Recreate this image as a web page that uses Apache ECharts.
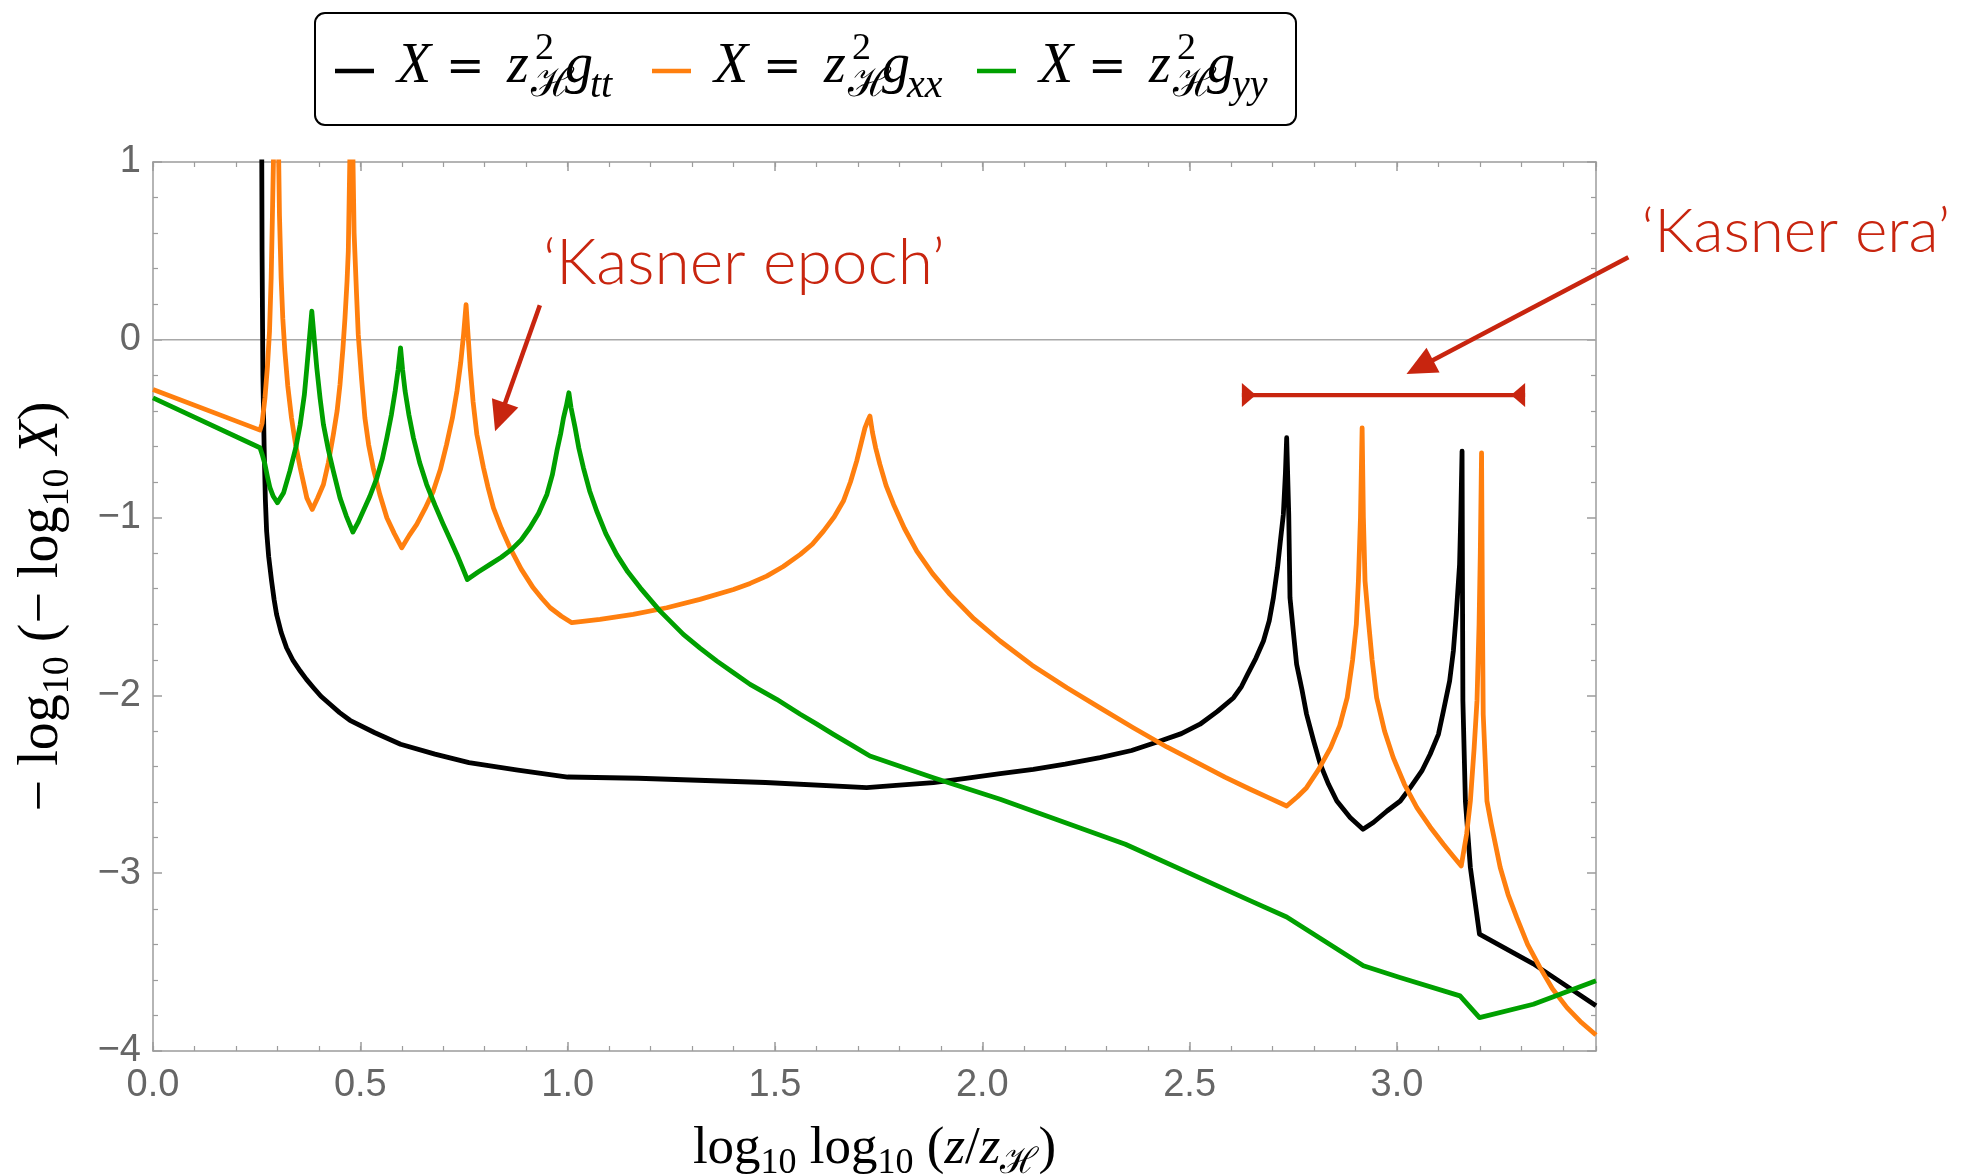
<!DOCTYPE html>
<html>
<head>
<meta charset="utf-8">
<script src="https://cdn.jsdelivr.net/npm/echarts@6/dist/echarts.min.js"></script>
<style>
  html, body { margin: 0; padding: 0; background: #ffffff; }
  #chart { width: 1981px; height: 1176px; }
</style>
</head>
<body>
<div id="chart"></div>
<script>
// -log10(-log10 X) against log10 log10(z/z_H) for the three metric components.
// Each entry is [log10 log10(z/z_H), -log10(-log10 X)].
const gttPoints = [
  [0.261, 2.0], [0.263, 0.5], [0.265, -0.2], [0.268, -0.6], [0.271, -0.9],
  [0.274, -1.076], [0.279, -1.22], [0.286, -1.357], [0.292, -1.46], [0.298, -1.544],
  [0.309, -1.645], [0.322, -1.732], [0.338, -1.805], [0.355, -1.863], [0.37, -1.91],
  [0.387, -1.957], [0.405, -2.005], [0.427, -2.05], [0.45, -2.097], [0.475, -2.14],
  [0.535, -2.21], [0.597, -2.275], [0.68, -2.33], [0.762, -2.378], [0.88, -2.42],
  [1.0, -2.459], [1.17, -2.466], [1.477, -2.49], [1.721, -2.519], [1.8, -2.505],
  [1.882, -2.49], [1.96, -2.466], [2.043, -2.44], [2.123, -2.416], [2.2, -2.387],
  [2.284, -2.35], [2.36, -2.31], [2.429, -2.256], [2.48, -2.215], [2.525, -2.162],
  [2.567, -2.09], [2.606, -2.013], [2.625, -1.95], [2.64, -1.88], [2.66, -1.79],
  [2.678, -1.694], [2.692, -1.58], [2.702, -1.451], [2.712, -1.28], [2.718, -1.15],
  [2.726, -0.982], [2.731, -0.75], [2.734, -0.551], [2.739, -0.982], [2.742, -1.451],
  [2.75, -1.64], [2.758, -1.825], [2.771, -1.97], [2.782, -2.106], [2.799, -2.256],
  [2.815, -2.387], [2.835, -2.5], [2.855, -2.594], [2.887, -2.687], [2.918, -2.753],
  [2.943, -2.715], [2.976, -2.65], [3.008, -2.594], [3.032, -2.519], [3.06, -2.425],
  [3.08, -2.331], [3.1, -2.219], [3.112, -2.088], [3.127, -1.919], [3.136, -1.75],
  [3.143, -1.544], [3.151, -1.263], [3.154, -0.982], [3.157, -0.626], [3.158, -1.4],
  [3.159, -2.031], [3.165, -2.594], [3.177, -2.968], [3.199, -3.343], [3.329, -3.51],
  [3.48, -3.746]
];

const gxxPoints = [
  [0.0, -0.28], [0.258, -0.508], [0.263, -0.47], [0.27, -0.327], [0.276, -0.15],
  [0.281, 0.048], [0.285, 0.35], [0.288, 0.7], [0.292, 1.2], [0.297, 2.5],
  [0.302, 1.2], [0.305, 0.7], [0.309, 0.35], [0.313, 0.12], [0.318, -0.064],
  [0.325, -0.26], [0.334, -0.439], [0.344, -0.59], [0.355, -0.72], [0.371, -0.889],
  [0.384, -0.954], [0.397, -0.89], [0.411, -0.814], [0.423, -0.69], [0.435, -0.532],
  [0.444, -0.4], [0.451, -0.251], [0.458, -0.05], [0.463, 0.123], [0.468, 0.33],
  [0.471, 0.498], [0.476, 1.2], [0.478, 2.5], [0.481, 1.2], [0.485, 0.6],
  [0.491, 0.25], [0.495, 0.03], [0.503, -0.22], [0.511, -0.439], [0.52, -0.59],
  [0.531, -0.72], [0.547, -0.87], [0.564, -1.001], [0.582, -1.09], [0.6, -1.17],
  [0.618, -1.1], [0.636, -1.038], [0.656, -0.95], [0.676, -0.851], [0.693, -0.73],
  [0.708, -0.589], [0.722, -0.44], [0.733, -0.289], [0.742, -0.13], [0.749, 0.03],
  [0.755, 0.198], [0.76, 0.02], [0.765, -0.158], [0.772, -0.35], [0.781, -0.532],
  [0.797, -0.72], [0.808, -0.83], [0.821, -0.945], [0.84, -1.06], [0.861, -1.17],
  [0.888, -1.29], [0.917, -1.395], [0.938, -1.455], [0.958, -1.507], [0.985, -1.555],
  [1.01, -1.591], [1.078, -1.572], [1.158, -1.544], [1.239, -1.507], [1.319, -1.46],
  [1.4, -1.404], [1.44, -1.37], [1.48, -1.329], [1.52, -1.275], [1.561, -1.207],
  [1.59, -1.15], [1.617, -1.076], [1.643, -0.995], [1.665, -0.907], [1.682, -0.8],
  [1.697, -0.682], [1.708, -0.58], [1.717, -0.495], [1.723, -0.46], [1.729, -0.429],
  [1.735, -0.52], [1.743, -0.61], [1.753, -0.701], [1.768, -0.82], [1.786, -0.926],
  [1.812, -1.06], [1.842, -1.188], [1.88, -1.315], [1.922, -1.432], [1.98, -1.57],
  [2.043, -1.694], [2.12, -1.83], [2.204, -1.957], [2.284, -2.07], [2.364, -2.182],
  [2.445, -2.29], [2.525, -2.387], [2.585, -2.46], [2.646, -2.528], [2.69, -2.575],
  [2.734, -2.622], [2.76, -2.57], [2.782, -2.519], [2.81, -2.42], [2.84, -2.294],
  [2.862, -2.17], [2.88, -2.013], [2.893, -1.8], [2.902, -1.6], [2.907, -1.357],
  [2.912, -1.0], [2.916, -0.495], [2.919, -1.0], [2.923, -1.357], [2.932, -1.6],
  [2.94, -1.8], [2.951, -2.013], [2.97, -2.2], [2.991, -2.35], [3.018, -2.5],
  [3.048, -2.631], [3.08, -2.74], [3.112, -2.837], [3.134, -2.9], [3.155, -2.959],
  [3.168, -2.78], [3.177, -2.594], [3.186, -2.3], [3.193, -2.031], [3.198, -1.6],
  [3.201, -1.2], [3.204, -0.636], [3.206, -1.5], [3.208, -2.106], [3.217, -2.594],
  [3.227, -2.72], [3.249, -2.968], [3.268, -3.12], [3.289, -3.25], [3.315, -3.4],
  [3.345, -3.531], [3.375, -3.65], [3.41, -3.756], [3.445, -3.84], [3.48, -3.91]
];

const gyyPoints = [
  [0.0, -0.327], [0.258, -0.607], [0.264, -0.65], [0.27, -0.701], [0.276, -0.77],
  [0.282, -0.832], [0.29, -0.88], [0.3, -0.917], [0.315, -0.86], [0.33, -0.739],
  [0.345, -0.6], [0.355, -0.476], [0.365, -0.31], [0.371, -0.158], [0.377, 0.0],
  [0.383, 0.161], [0.389, 0.0], [0.395, -0.158], [0.403, -0.33], [0.411, -0.476],
  [0.423, -0.62], [0.435, -0.739], [0.451, -0.889], [0.466, -0.99], [0.482, -1.081],
  [0.494, -1.03], [0.507, -0.963], [0.523, -0.88], [0.54, -0.776], [0.553, -0.67],
  [0.564, -0.551], [0.575, -0.42], [0.584, -0.289], [0.591, -0.17], [0.597, -0.045],
  [0.602, -0.17], [0.608, -0.289], [0.617, -0.42], [0.628, -0.551], [0.643, -0.69],
  [0.66, -0.814], [0.68, -0.93], [0.7, -1.038], [0.717, -1.125], [0.733, -1.207],
  [0.746, -1.28], [0.758, -1.348], [0.785, -1.305], [0.813, -1.263], [0.84, -1.223],
  [0.865, -1.179], [0.888, -1.125], [0.909, -1.057], [0.93, -0.975], [0.95, -0.87],
  [0.963, -0.76], [0.974, -0.626], [0.983, -0.53], [0.99, -0.439], [0.997, -0.37],
  [1.003, -0.298], [1.008, -0.38], [1.018, -0.495], [1.027, -0.61], [1.038, -0.72],
  [1.053, -0.85], [1.07, -0.963], [1.092, -1.09], [1.118, -1.207], [1.145, -1.305],
  [1.175, -1.395], [1.223, -1.526], [1.279, -1.657], [1.32, -1.735], [1.36, -1.807],
  [1.4, -1.873], [1.44, -1.938], [1.504, -2.022], [1.561, -2.106], [1.6, -2.16],
  [1.641, -2.219], [1.685, -2.28], [1.729, -2.341], [1.882, -2.463], [2.043, -2.584],
  [2.345, -2.837], [2.647, -3.156], [2.734, -3.246], [2.919, -3.521], [3.007, -3.587],
  [3.152, -3.69], [3.199, -3.812], [3.329, -3.737], [3.48, -3.605]
];

// Axis ranges and tick steps
const xRange = [0, 3.48];
const yRange = [-4, 1];
const xMajorStep = 0.5, xMinorStep = 0.1;
const yMajorStep = 1, yMinorSplits = 5;

// Annotations in data coordinates
const epochArrow = { from: [0.933, 0.194], to: [0.825, -0.514] };
const eraArrow = { from: [3.558, 0.464], to: [3.023, -0.193] };
const eraSpan = { x0: 2.626, x1: 3.309, y: -0.311 };
const epochLabel = { text: '\u2018Kasner epoch\u2019', at: [1.425, 0.43] };
const eraLabel = { text: '\u2018Kasner era\u2019', at: [3.59, 0.605] };

const legendEntries = [
  { color: '#000000', sub: 'tt' },
  { color: '#ff7f0e', sub: 'xx' },
  { color: '#00a000', sub: 'yy' }
];

const FRAME = '#9c9c9c';
const LABEL = '#666666';
const RED = '#c8250f';
const SERIF = "'Liberation Serif','DejaVu Serif',serif";
const SANS = "'Liberation Sans Narrow','Liberation Sans',Arial,sans-serif";
const LIGHT = "Lato,'Liberation Sans',sans-serif";

const chart = echarts.init(document.getElementById('chart'), null, { renderer: 'canvas' });

function frameAxis(extra) {
  return Object.assign({
    type: 'value',
    splitLine: { show: false },
    axisLine: { onZero: false, lineStyle: { color: FRAME, width: 1.5 } },
    axisTick: { inside: true, length: 9, lineStyle: { color: FRAME, width: 1.5 } },
    axisLabel: { show: false },
    silent: true
  }, extra);
}

function minorXAxis(position) {
  return frameAxis({
    position: position, min: xRange[0], max: xRange[1], interval: xMinorStep,
    axisLine: { show: false, onZero: false },
    axisTick: { inside: true, length: 5, lineStyle: { color: FRAME, width: 1.2 } }
  });
}

function titleRich(size) {
  const sub = Math.round(size * 0.68);
  return {
    n: { fontFamily: SERIF, fontSize: size, color: '#000' },
    i: { fontFamily: SERIF, fontSize: size, fontStyle: 'italic', color: '#000' },
    s: { fontFamily: SERIF, fontSize: sub, color: '#000', padding: [Math.round(size * 0.55), 0, 0, 0] }
  };
}

const lineSeries = (name, data, color) => ({
  name: name, type: 'line', data: data, showSymbol: false, symbol: 'none',
  xAxisIndex: 0, yAxisIndex: 0, clip: true, silent: true,
  lineStyle: { color: color, width: 4.8, join: 'round' },
  emphasis: { disabled: true }
});

chart.setOption({
  animation: false,
  backgroundColor: '#ffffff',
  grid: { left: 153, right: 385, top: 162, bottom: 125, containLabel: false, outerBoundsMode: 'none' },
  xAxis: [
    frameAxis({
      position: 'bottom', min: xRange[0], max: xRange[1], interval: xMajorStep,
      axisLabel: {
        show: true, showMaxLabel: false, margin: 16, color: LABEL, fontSize: 38,
        fontFamily: SANS, formatter: v => v.toFixed(1)
      },
      name: '{n|log}{s|10}{n| log}{s|10}{n| (}{i|z}{n|/}{i|z}{s|\u210B}{n|)}',
      nameLocation: 'middle', nameGap: 66,
      nameTextStyle: { rich: titleRich(53) }
    }),
    minorXAxis('bottom'),
    frameAxis({ position: 'top', min: xRange[0], max: xRange[1], interval: xMajorStep }),
    minorXAxis('top')
  ],
  yAxis: [
    frameAxis({
      position: 'left', min: yRange[0], max: yRange[1], interval: yMajorStep,
      minorTick: { show: true, splitNumber: yMinorSplits, length: 5, lineStyle: { color: FRAME, width: 1.2 } },
      axisLabel: {
        show: true, margin: 12, color: LABEL, fontSize: 38, fontFamily: SANS,
        formatter: v => (v < 0 ? '\u2212' + Math.abs(v) : String(v))
      },
      name: '{n|\u2212 log}{s|10}{n| (\u2212 log}{s|10}{i| X}{n|)}',
      nameLocation: 'middle', nameGap: 76, nameRotate: 90,
      nameTextStyle: { rich: titleRich(56) }
    }),
    frameAxis({
      position: 'right', min: yRange[0], max: yRange[1], interval: yMajorStep,
      minorTick: { show: true, splitNumber: yMinorSplits, length: 5, lineStyle: { color: FRAME, width: 1.2 } }
    })
  ],
  series: [
    {
      name: 'zero', type: 'line', data: [[xRange[0], 0], [xRange[1], 0]],
      showSymbol: false, symbol: 'none', silent: true, z: 1,
      lineStyle: { color: '#a8a8a8', width: 1.5 }
    },
    lineSeries('X = z\u00B2\u210B g_tt', gttPoints, legendEntries[0].color),
    lineSeries('X = z\u00B2\u210B g_xx', gxxPoints, legendEntries[1].color),
    lineSeries('X = z\u00B2\u210B g_yy', gyyPoints, legendEntries[2].color)
  ]
});

// ---- overlay: legend box and annotations ----
function px(p) { return chart.convertToPixel({ seriesIndex: 1 }, p); }

function txt(x, y, text, size, style, color, align, family, weight) {
  return {
    type: 'text', x: x, y: y, silent: true, z: 100,
    style: {
      text: text, fill: color || '#000', fontSize: size, fontStyle: style || 'normal',
      fontWeight: weight || 'normal', fontFamily: family || SERIF,
      textAlign: align || 'left', textVerticalAlign: 'middle'
    }
  };
}

function arrow(from, to) {
  const a = px(from), b = px(to);
  const dx = b[0] - a[0], dy = b[1] - a[1];
  const L = Math.hypot(dx, dy), ux = dx / L, uy = dy / L;
  const head = 30, half = 14;
  const bx = b[0] - ux * head, by = b[1] - uy * head;
  return [
    { type: 'line', silent: true, z: 100,
      shape: { x1: a[0], y1: a[1], x2: bx + ux * 3, y2: by + uy * 3 },
      style: { stroke: RED, lineWidth: 4.5 } },
    { type: 'polygon', silent: true, z: 100,
      shape: { points: [[b[0], b[1]], [bx - uy * half, by + ux * half], [bx + uy * half, by - ux * half]] },
      style: { fill: RED } }
  ];
}

function span(s) {
  const l = px([s.x0, s.y]), r = px([s.x1, s.y]);
  const h = 12, d = 14;
  return [
    { type: 'line', silent: true, z: 100, shape: { x1: l[0], y1: l[1], x2: r[0], y2: r[1] },
      style: { stroke: RED, lineWidth: 4.2 } },
    { type: 'polygon', silent: true, z: 100,
      shape: { points: [[l[0], l[1] - h], [l[0], l[1] + h], [l[0] + d, l[1]]] }, style: { fill: RED } },
    { type: 'polygon', silent: true, z: 100,
      shape: { points: [[r[0], r[1] - h], [r[0], r[1] + h], [r[0] - d, r[1]]] }, style: { fill: RED } }
  ];
}

function legendItem(x0, entry) {
  const y = 71;
  return [
    { type: 'line', silent: true, z: 100, shape: { x1: x0, y1: y, x2: x0 + 39, y2: y },
      style: { stroke: entry.color, lineWidth: 4.5 } },
    txt(x0 + 62, 67, 'X', 56, 'italic'),
    txt(x0 + 111, 69, '=', 46, 'normal', '#000', 'left', "'DejaVu Serif',serif"),
    txt(x0 + 172, 67, 'z', 56, 'italic'),
    txt(x0 + 200, 49, '2', 38, 'normal'),
    txt(x0 + 196, 85, '\u210B', 40, 'normal'),
    txt(x0 + 230, 67, 'g', 56, 'italic'),
    txt(x0 + 255, 86, entry.sub, 40, 'italic')
  ];
}

const overlay = [];
overlay.push({ type: 'rect', silent: true, z: 99,
  shape: { x: 315, y: 13, width: 981, height: 112, r: 10 },
  style: { fill: '#ffffff', stroke: '#000000', lineWidth: 2 } });
[335, 652, 977].forEach((x0, k) => overlay.push(...legendItem(x0, legendEntries[k])));

overlay.push(...arrow(epochArrow.from, epochArrow.to));
overlay.push(...arrow(eraArrow.from, eraArrow.to));
overlay.push(...span(eraSpan));
const ep = px(epochLabel.at), er = px(eraLabel.at);
overlay.push(txt(ep[0], ep[1], epochLabel.text, 64, 'normal', RED, 'center', LIGHT, 300));
overlay.push(txt(er[0], er[1], eraLabel.text, 62, 'normal', RED, 'left', LIGHT, 300));

chart.setOption({ graphic: { elements: overlay } });
</script>
</body>
</html>
